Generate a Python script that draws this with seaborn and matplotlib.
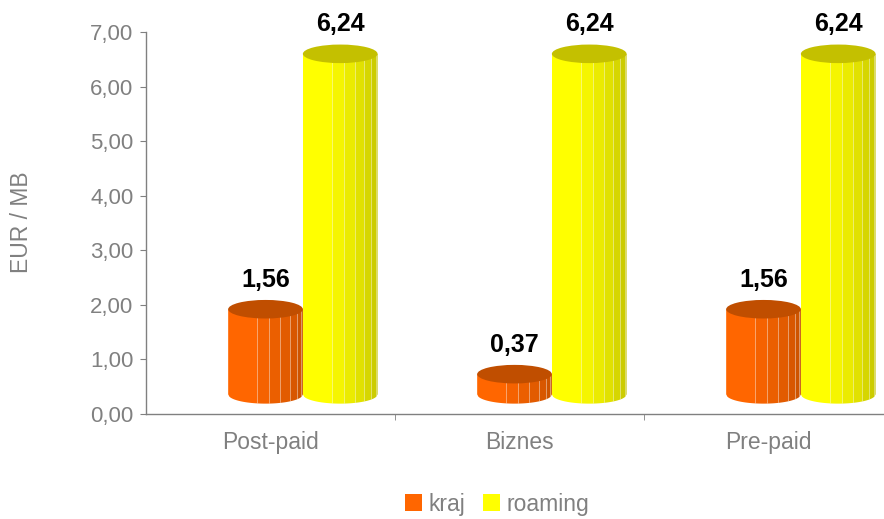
import matplotlib
matplotlib.use("Agg")
import matplotlib.pyplot as plt
import numpy as np
import pandas as pd
import seaborn as sns
from matplotlib.patches import Ellipse, Patch, PathPatch, Rectangle
from matplotlib.path import Path
from matplotlib.colors import to_rgb
from matplotlib.ticker import FuncFormatter

categories = ["Post-paid", "Biznes", "Pre-paid"]
kraj = [1.56, 0.37, 1.56]
roaming = [6.24, 6.24, 6.24]
series = ["kraj", "roaming"]

df = pd.DataFrame(
    {
        "category": categories * 2,
        "value": kraj + roaming,
        "series": ["kraj"] * 3 + ["roaming"] * 3,
    }
)

base_colors = {"kraj": "#FF6600", "roaming": "#FFFF00"}
dark_colors = {"kraj": "#C45000", "roaming": "#C2C200"}
top_colors = {"kraj": "#C04E00", "roaming": "#C4C000"}
gray = "#808080"

sns.set_style("white")
plt.rcParams["font.family"] = ["Liberation Sans", "DejaVu Sans"]

fig = plt.figure(figsize=(8.84, 5.19), dpi=100)
ax = fig.add_axes([146 / 884, 105 / 519, 747 / 884, 382 / 519])

sns.barplot(
    data=df,
    x="category",
    y="value",
    hue="series",
    palette=base_colors,
    width=0.6,
    legend=False,
    ax=ax,
)

# fake 3D cylinder look
dx, dy, eh = 0.13, 0.36, 0.34
thetas = np.deg2rad([-40, 0, 15, 30, 45, 60, 75, 90])
fracs = (np.sin(thetas) - np.sin(thetas[0])) / (1 - np.sin(thetas[0]))

for k, (container, name) in enumerate(zip(ax.containers, series)):
    c0 = np.array(to_rgb(base_colors[name]))
    c1 = np.array(to_rgb(dark_colors[name]))
    for bar in container:
        bar.set_visible(False)
        x0 = bar.get_x() + dx
        w = bar.get_width()
        h = bar.get_height()
        xc = x0 + w / 2
        y0, y1 = dy, dy + h
        z = 3 + k

        xs = np.linspace(x0, x0 + w, 60)
        ys = y0 - (eh / 2) * np.sqrt(np.clip(1 - ((xs - xc) / (w / 2)) ** 2, 0, 1))
        verts = [(x0, y1)] + list(zip(xs, ys)) + [(x0 + w, y1), (x0, y1)]
        codes = [Path.MOVETO] + [Path.LINETO] * (len(verts) - 2) + [Path.CLOSEPOLY]
        body = PathPatch(Path(verts, codes), transform=ax.transData, facecolor="none", edgecolor="none")
        ax.add_patch(body)

        n = len(fracs) - 1
        for i in range(n):
            f = i / (n - 1)
            col = c0 * (1 - f) + c1 * f
            sx = x0 + fracs[i] * w
            sw = (fracs[i + 1] - fracs[i]) * w
            r = Rectangle((sx, y0 - eh), sw, h + eh, facecolor=col, edgecolor="none", zorder=z)
            ax.add_patch(r)
            r.set_clip_path(body)
            if i > 0:
                ln = ax.plot([sx, sx], [y0 - eh, y1], color="white", alpha=0.5, lw=0.6, zorder=z)[0]
                ln.set_clip_path(body)

        ax.add_patch(Ellipse((xc, y1), w, eh, facecolor=top_colors[name], edgecolor="none", zorder=z + 0.5))

        ax.annotate(
            f"{h:.2f}".replace(".", ","),
            xy=(xc, y1 + eh / 2),
            xytext=(0, 6),
            textcoords="offset points",
            ha="center",
            va="bottom",
            fontsize=18,
            fontweight="bold",
            color="black",
            zorder=10,
        )

ax.set_xlim(-0.5, 2.5)
ax.set_ylim(0, 7)
ax.set_yticks(np.arange(0, 8, 1))
ax.yaxis.set_major_formatter(FuncFormatter(lambda v, p: f"{v:.2f}".replace(".", ",")))
ax.set_xticks([0.5, 1.5], minor=True)
ax.tick_params(axis="x", which="major", length=0, pad=12, labelsize=16.5, labelcolor=gray)
ax.tick_params(axis="x", which="minor", length=4, color=gray, direction="out", bottom=True)
ax.tick_params(axis="y", length=4, color=gray, direction="out", left=True, pad=5, labelsize=16, labelcolor=gray)
ax.set_xlabel("")
ax.set_ylabel("")
for s in ["top", "right"]:
    ax.spines[s].set_visible(False)
for s in ["left", "bottom"]:
    ax.spines[s].set_color(gray)
    ax.spines[s].set_linewidth(1)

fig.text(22 / 884, 1 - 222 / 519, "EUR / MB", rotation=90, ha="center", va="center", fontsize=16.5, color=gray)

handles = [Patch(facecolor=base_colors[s], edgecolor="none", label=s) for s in series]
fig.legend(
    handles=handles,
    loc="center",
    bbox_to_anchor=(497 / 884, 1 - 504 / 519),
    ncol=2,
    frameon=False,
    fontsize=16.5,
    handlelength=0.75,
    handleheight=0.75,
    handletextpad=0.25,
    columnspacing=0.8,
    labelcolor=gray,
    borderpad=0.2,
)

plt.savefig("out.png", dpi=100)
plt.close()
